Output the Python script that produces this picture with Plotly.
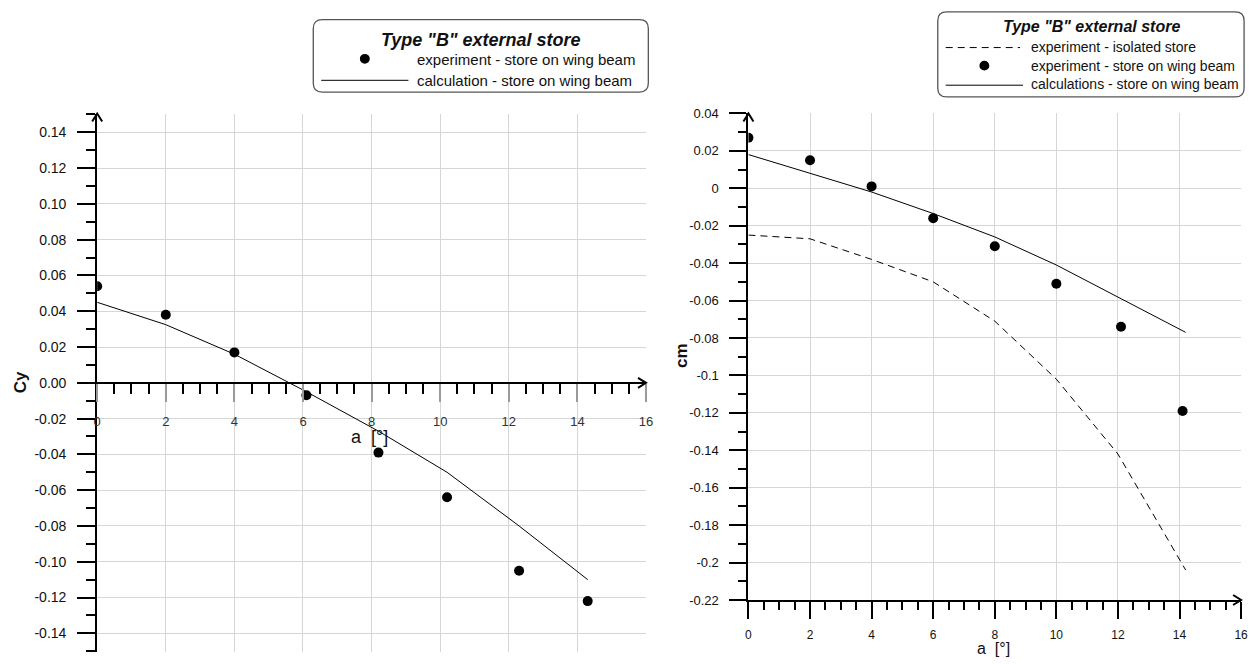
import plotly.graph_objects as go

# ---- data: lateral force coefficient Cy vs angle of attack ----
cy_exp_a = [0, 2, 4, 6.1, 8.2, 10.2, 12.3, 14.3]
cy_exp = [0.054, 0.038, 0.017, -0.007, -0.039, -0.064, -0.105, -0.122]
cy_calc_a = [0, 2, 4, 6.1, 8.2, 10.2, 12.3, 14.3]
cy_calc = [0.045, 0.0325, 0.016, -0.005, -0.027, -0.050, -0.080, -0.110]

# ---- data: pitching moment coefficient cm vs angle of attack ----
cm_iso_a = [0, 2, 4, 6, 8, 10, 12, 14.2]
cm_iso = [-0.025, -0.027, -0.038, -0.050, -0.071, -0.102, -0.142, -0.204]
cm_exp_a = [0, 2, 4, 6, 8, 10, 12.1, 14.1]
cm_exp = [0.027, 0.015, 0.001, -0.016, -0.031, -0.051, -0.074, -0.119]
cm_calc_a = [0, 2, 4, 6, 8, 10, 12, 14.2]
cm_calc = [0.018, 0.008, -0.002, -0.0135, -0.026, -0.041, -0.058, -0.077]

# ---- tick labels ----
a_ticks = [0, 2, 4, 6, 8, 10, 12, 14, 16]
a_ticktext = ["0", "2", "4", "6", "8", "10", "12", "14", "16"]
cy_ticks = [0.14, 0.12, 0.10, 0.08, 0.06, 0.04, 0.02, 0.0,
            -0.02, -0.04, -0.06, -0.08, -0.10, -0.12, -0.14]
cy_ticktext = ["0.14", "0.12", "0.10", "0.08", "0.06", "0.04", "0.02", "0.00",
               "-0.02", "-0.04", "-0.06", "-0.08", "-0.10", "-0.12", "-0.14"]
cm_ticks = [0.04, 0.02, 0.0, -0.02, -0.04, -0.06, -0.08, -0.10, -0.12,
            -0.14, -0.16, -0.18, -0.20, -0.22]
cm_ticktext = ["0.04", "0.02", "0", "-0.02", "-0.04", "-0.06", "-0.08", "-0.1",
               "-0.12", "-0.14", "-0.16", "-0.18", "-0.2", "-0.22"]

W, H = 1260, 664
FONT = "Liberation Sans, Arial, sans-serif"
GRID = "#d6d6d6"


def px(x):
    return x / W


def py(y):
    return 1 - y / H


# plot areas (page pixels)
L_X0, L_X1, L_Y0, L_Y1 = 94, 648, 109, 660
R_X0, R_X1, R_Y0, R_Y1 = 751, 1248.3, 108.3, 606.7

cy_range = [-0.1505, 0.1505]
cm_range = [-0.22, 0.0403]
a_range = [0, 16.01]

l_ydom = [py(L_Y1), py(L_Y0)]
r_ydom = [py(R_Y1), py(R_Y0)]
l_xdom = [px(L_X0), px(L_X1)]
r_xdom = [px(R_X0), px(R_X1)]


def to_paper(v, rng, dom):
    return dom[0] + (v - rng[0]) / (rng[1] - rng[0]) * (dom[1] - dom[0])


# paper position of Cy = 0, where the left angle axis crosses
zero_pos = to_paper(0, cy_range, l_ydom)

fig = go.Figure()

fig.add_trace(go.Scatter(x=cy_calc_a, y=cy_calc, mode="lines",
                         line=dict(color="black", width=1), xaxis="x", yaxis="y"))
fig.add_trace(go.Scatter(x=cy_exp_a, y=cy_exp, mode="markers",
                         marker=dict(color="black", size=10), xaxis="x", yaxis="y"))

fig.add_trace(go.Scatter(x=cm_iso_a, y=cm_iso, mode="lines",
                         line=dict(color="black", width=1, dash="7px,5px"), xaxis="x2", yaxis="y2"))
fig.add_trace(go.Scatter(x=cm_calc_a, y=cm_calc, mode="lines",
                         line=dict(color="black", width=1), xaxis="x2", yaxis="y2"))
fig.add_trace(go.Scatter(x=cm_exp_a, y=cm_exp, mode="markers",
                         marker=dict(color="black", size=10), xaxis="x2", yaxis="y2"))

tick_font = dict(family=FONT, size=14, color="#111")

fig.update_layout(
    width=W, height=H,
    margin=dict(l=0, r=0, t=0, b=0),
    paper_bgcolor="white", plot_bgcolor="white",
    showlegend=False,
    font=dict(family=FONT, color="#111"),
    xaxis=dict(
        domain=l_xdom, range=a_range, anchor="free", position=zero_pos,
        tickvals=a_ticks, ticktext=a_ticktext, tickfont=dict(family=FONT, size=13, color="#333"),
        ticks="outside", ticklen=18, tickwidth=2, tickcolor="#9a9a9a", ticklabelstandoff=9,
        minor=dict(dtick=0.5, tick0=0, ticks="outside", ticklen=10, tickwidth=2,
                   tickcolor="black", showgrid=False),
        showline=True, linecolor="black", linewidth=2,
        showgrid=True, gridcolor=GRID, gridwidth=1, zeroline=False,
    ),
    yaxis=dict(
        domain=l_ydom, range=cy_range, anchor="x",
        tickvals=cy_ticks, ticktext=cy_ticktext, tickfont=tick_font,
        ticks="outside", ticklen=18, tickwidth=2, tickcolor="black", ticklabelstandoff=8,
        minor=dict(dtick=0.01, tick0=0, ticks="outside", ticklen=9, tickwidth=2,
                   tickcolor="black", showgrid=False),
        showline=True, linecolor="black", linewidth=2,
        showgrid=True, gridcolor=GRID, gridwidth=1, zeroline=False,
    ),
    xaxis2=dict(
        domain=r_xdom, range=a_range, anchor="y2",
        tickvals=a_ticks, ticktext=a_ticktext, tickfont=dict(family=FONT, size=12, color="#111"),
        ticks="outside", ticklen=17, tickwidth=2, tickcolor="black", ticklabelstandoff=6,
        minor=dict(dtick=0.5, tick0=0, ticks="outside", ticklen=8, tickwidth=2,
                   tickcolor="black", showgrid=False),
        showline=True, linecolor="black", linewidth=2,
        showgrid=True, gridcolor=GRID, gridwidth=1, zeroline=False,
    ),
    yaxis2=dict(
        domain=r_ydom, range=cm_range, anchor="x2",
        tickvals=cm_ticks, ticktext=cm_ticktext, tickfont=dict(family=FONT, size=13, color="#111"),
        ticks="outside", ticklen=17, tickwidth=2, tickcolor="black", ticklabelstandoff=8,
        minor=dict(dtick=0.01, tick0=0, ticks="outside", ticklen=8, tickwidth=2,
                   tickcolor="black", showgrid=False),
        showline=True, linecolor="black", linewidth=2,
        showgrid=True, gridcolor=GRID, gridwidth=1, zeroline=False,
    ),
)

shapes = []


# open arrowheads at the ends of the axes (paper-anchored so they are not clipped)
def arrow(xa, ya, path):
    shapes.append(dict(type="path", xref="paper", yref="paper", xsizemode="pixel", ysizemode="pixel",
                       xanchor=xa, yanchor=ya, path=path,
                       line=dict(color="black", width=2), layer="above"))


UP = "M-5,-8 L0,0 L5,-8"
RIGHT = "M-8,-5 L0,0 L-8,5"
arrow(l_xdom[0], l_ydom[1], UP)
arrow(to_paper(16, a_range, l_xdom), zero_pos, RIGHT)
arrow(r_xdom[0], to_paper(0.04, cm_range, r_ydom), UP)
arrow(to_paper(16, a_range, r_xdom), r_ydom[0], RIGHT)


def rounded_box(x0, y0, x1, y1, r):
    p = (f"M{px(x0 + r)},{py(y0)} L{px(x1 - r)},{py(y0)} Q{px(x1)},{py(y0)} {px(x1)},{py(y0 + r)} "
         f"L{px(x1)},{py(y1 - r)} Q{px(x1)},{py(y1)} {px(x1 - r)},{py(y1)} "
         f"L{px(x0 + r)},{py(y1)} Q{px(x0)},{py(y1)} {px(x0)},{py(y1 - r)} "
         f"L{px(x0)},{py(y0 + r)} Q{px(x0)},{py(y0)} {px(x0 + r)},{py(y0)} Z")
    shapes.append(dict(type="path", xref="paper", yref="paper", path=p,
                       line=dict(color="#555", width=1.3), fillcolor="white", layer="above"))


def sample_line(x0, x1, y, dash="solid"):
    shapes.append(dict(type="line", xref="paper", yref="paper",
                       x0=px(x0), x1=px(x1), y0=py(y), y1=py(y),
                       line=dict(color="black", width=1, dash=dash), layer="above"))


def sample_dot(x, y, r=5):
    shapes.append(dict(type="circle", xref="paper", yref="paper",
                       x0=px(x - r), x1=px(x + r), y0=py(y - r), y1=py(y + r),
                       fillcolor="black", line=dict(color="black", width=0), layer="above"))


# legend boxes
rounded_box(312, 13, 650, 87, 9)
sample_dot(364, 53)
sample_line(320, 408, 75)

rounded_box(942, 5, 1251, 92, 9)
sample_line(950, 1025, 41.5, dash="7px,5px")
sample_dot(989, 60)
sample_line(950, 1028, 80)

fig.update_layout(shapes=shapes)

ann = []


def text(x, y, s, size, xanchor="left", bold=False, italic=False, angle=0, color="#111"):
    if bold:
        s = f"<b>{s}</b>"
    if italic:
        s = f"<i>{s}</i>"
    ann.append(dict(x=px(x), y=py(y), xref="paper", yref="paper", text=s, showarrow=False,
                    xanchor=xanchor, yanchor="middle", textangle=angle,
                    font=dict(family=FONT, size=size, color=color)))


text(481, 34, 'Type "B" external store', 18, xanchor="center", bold=True, italic=True)
text(415, 54, "experiment - store on wing beam", 15)
text(415, 75, "calculation - store on wing beam", 15)

text(1097, 20, 'Type "B" external store', 16, xanchor="center", bold=True, italic=True)
text(1034, 41, "experiment - isolated store", 14)
text(1034, 60, "experiment - store on wing beam", 14)
text(1034, 79, "calculations - store on wing beam", 14)

# axis titles
text(16, 384, "Cy", 17, xanchor="center", bold=True, angle=-90)
text(369, 440, "a\u00a0\u00a0[°]", 18, xanchor="center")
text(684, 357, "cm", 17, xanchor="center", bold=True, angle=-90)
text(998, 656, "a\u00a0\u00a0[°]", 16, xanchor="center")

fig.update_layout(annotations=ann)

fig.write_html("out.html")
